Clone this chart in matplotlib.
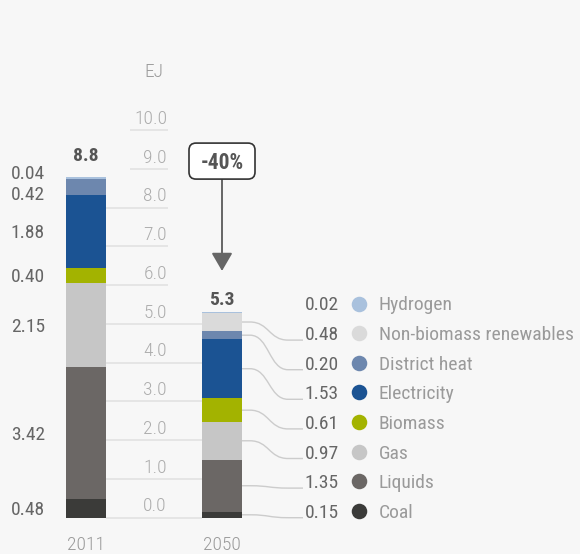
import matplotlib
matplotlib.use("Agg")
import matplotlib.pyplot as plt
import matplotlib.transforms as mtransforms
from matplotlib.path import Path
from matplotlib.patches import PathPatch, FancyBboxPatch
import numpy as np

# ---- data ---------------------------------------------------------------
years = ["2011", "2050"]
categories = ["Coal", "Liquids", "Gas", "Biomass", "Electricity",
              "District heat", "Non-biomass renewables", "Hydrogen"]
values_2011 = [0.48, 3.42, 2.15, 0.40, 1.88, 0.42, 0.00, 0.04]
values_2050 = [0.15, 1.35, 0.97, 0.61, 1.53, 0.20, 0.48, 0.02]
y_ticks = [0, 1, 2, 3, 4, 5, 6, 7, 8, 9, 10]
unit = "EJ"

colors = ["#3b3b39", "#6b6765", "#c6c6c6", "#a3b300", "#1b5393",
          "#6d87ae", "#dadada", "#a9c1dd"]

# ---- style --------------------------------------------------------------
plt.rcParams["font.family"] = ["Roboto Condensed", "Roboto", "DejaVu Sans"]
BG = "#f7f7f7"
FS = 14

fig = plt.figure(figsize=(5.8, 5.54), dpi=100, facecolor=BG)
ax = fig.add_axes([0, 0, 1, 1])
ax.set_facecolor(BG)
ax.axis("off")

# layout scale: 136 px per bar step, 38.75 px per EJ
PX_X, PX_Y = 136.0, 38.75
ax.set_xlim(-86 / PX_X, (580 - 86) / PX_X)
ax.set_ylim(-(554 - 517.7) / PX_Y, 517.7 / PX_Y)


def px(dx):
    return dx / PX_X


def py(dy):
    return dy / PX_Y


x_pos = np.arange(len(years))
bar_w = px(40)
series = [values_2011, values_2050]
totals = [sum(v) for v in series]

# ---- gridlines and tick labels -----------------------------------------
label_left = px(130 - 86)
label_right = px(167 - 86)
for v in y_ticks:
    left = x_pos[0] + bar_w / 2 if v <= totals[0] else label_left
    right = x_pos[1] - bar_w / 2 if v <= totals[1] else label_right + px(1)
    ax.plot([left, right], [v, v], color="#e4e4e4", lw=1.3, zorder=1,
            solid_capstyle="butt")
    ax.annotate(f"{v:.1f}", xy=(label_right, v), xytext=(0, 4.5),
                textcoords="offset points", ha="right", va="baseline",
                fontsize=FS, fontweight="light", color="#acacac")

ax.annotate(unit, xy=(px(163 - 86), py(517.7 - 76.7)), ha="right",
            va="baseline", fontsize=FS, fontweight="light", color="#9a9a9a")

# ---- stacked bars -------------------------------------------------------
for i, vals in enumerate(series):
    bottom = 0.0
    for val, c in zip(vals, colors):
        if val > 0:
            ax.bar(x_pos[i], val, width=bar_w, bottom=bottom, color=c,
                   linewidth=0, zorder=3)
        bottom += val

# year labels
for i, yr in enumerate(years):
    ax.annotate(yr, xy=(x_pos[i], 0), xytext=(0, -23.3),
                textcoords="offset points", ha="center", va="baseline",
                fontsize=FS, fontweight="light", color="#9a9a9a")

# totals above bars
total_offsets = [11.5, 5.0]
for i, t in enumerate(totals):
    ax.annotate(f"{t:.1f}", xy=(x_pos[i], t), xytext=(0, total_offsets[i]),
                textcoords="offset points", ha="center", va="baseline",
                fontsize=FS, fontweight="bold", color="#555555")

# ---- value labels for the first bar (spread apart to avoid overlap) -----
cum = np.cumsum([0] + values_2011)
centers = [(cum[k] + cum[k + 1]) / 2 for k in range(len(values_2011))]
items = [(centers[k], values_2011[k]) for k in range(len(values_2011))
         if values_2011[k] > 0]
pos = [c for c, _ in items]
min_gap = py(21)
for _ in range(50):
    for k in range(len(pos) - 1):
        gap = pos[k + 1] - pos[k]
        if gap < min_gap:
            shift = (min_gap - gap) / 2
            pos[k] -= shift
            pos[k + 1] += shift
for p, (_, val) in zip(pos, items):
    ax.annotate(f"{val:.2f}", xy=(px(45 - 86), p), xytext=(0, -5),
                textcoords="offset points", ha="right", va="baseline",
                fontsize=FS, color="#666666")

# ---- legend with values and connectors for the second bar ---------------
row_step = py(29.6)
x_val = 1 + px(339 - 222)
x_dot = 1 + px(359 - 222)
x_name = 1 + px(379 - 222)
x_line_end = 1 + px(303 - 222)
x_bend0 = 1 + px(250 - 222)
x_bend1 = 1 + px(288 - 222)
x_bar_edge = x_pos[1] + bar_w / 2

cum2 = np.cumsum([0] + values_2050)
for k, (name, val, c) in enumerate(zip(categories, values_2050, colors)):
    row_y = k * row_step
    ax.annotate(f"{val:.2f}", xy=(x_val, row_y), ha="right", va="baseline",
                fontsize=FS, color="#666666")
    ax.annotate(name, xy=(x_name, row_y), ha="left", va="baseline",
                fontsize=FS, color="#9a9a9a")
    ax.scatter([x_dot], [row_y + py(7)], s=125, color=c, linewidths=0,
               zorder=4)
    if val >= 0.05:
        y0 = (cum2[k] + cum2[k + 1]) / 2
        mid = (x_bend0 + x_bend1) / 2
        verts = [(x_bar_edge, y0), (x_bend0, y0),
                 (mid, y0), (mid, row_y), (x_bend1, row_y),
                 (x_line_end, row_y)]
        codes = [Path.MOVETO, Path.LINETO, Path.CURVE4, Path.CURVE4,
                 Path.CURVE4, Path.LINETO]
        ax.add_patch(PathPatch(Path(verts, codes), facecolor="none",
                               edgecolor="#cccccc", lw=1.0, zorder=2))

# ---- change callout -----------------------------------------------------
change = (totals[1] - totals[0]) / totals[0] * 100
box_y = totals[0] + py(16)
# rounded box sized in pixels, anchored at the data point
box_trans = mtransforms.ScaledTranslation(x_pos[1], box_y, ax.transData)
box_w, box_h = 66, 36
ax.add_patch(FancyBboxPatch((-box_w / 2, -box_h / 2), box_w, box_h,
                            boxstyle="round,pad=0,rounding_size=7",
                            transform=box_trans, facecolor="white",
                            edgecolor="#333333", lw=1.2, zorder=6))
ax.annotate(f"{change:.0f}%", xy=(x_pos[1], box_y), xytext=(0, -5.8),
            textcoords="offset points", ha="center", va="baseline",
            fontsize=15.5, fontweight="bold", color="#555555", zorder=7)
ax.annotate("", xy=(x_pos[1], totals[1] + py(41)),
            xytext=(x_pos[1], box_y - py(box_h / 2)),
            arrowprops=dict(arrowstyle="-|>,head_length=0.55,head_width=0.32",
                            mutation_scale=20, color="#666666", lw=1.4,
                            shrinkA=0, shrinkB=0),
            zorder=5)

fig.savefig("out.png", dpi=100, facecolor=BG)
